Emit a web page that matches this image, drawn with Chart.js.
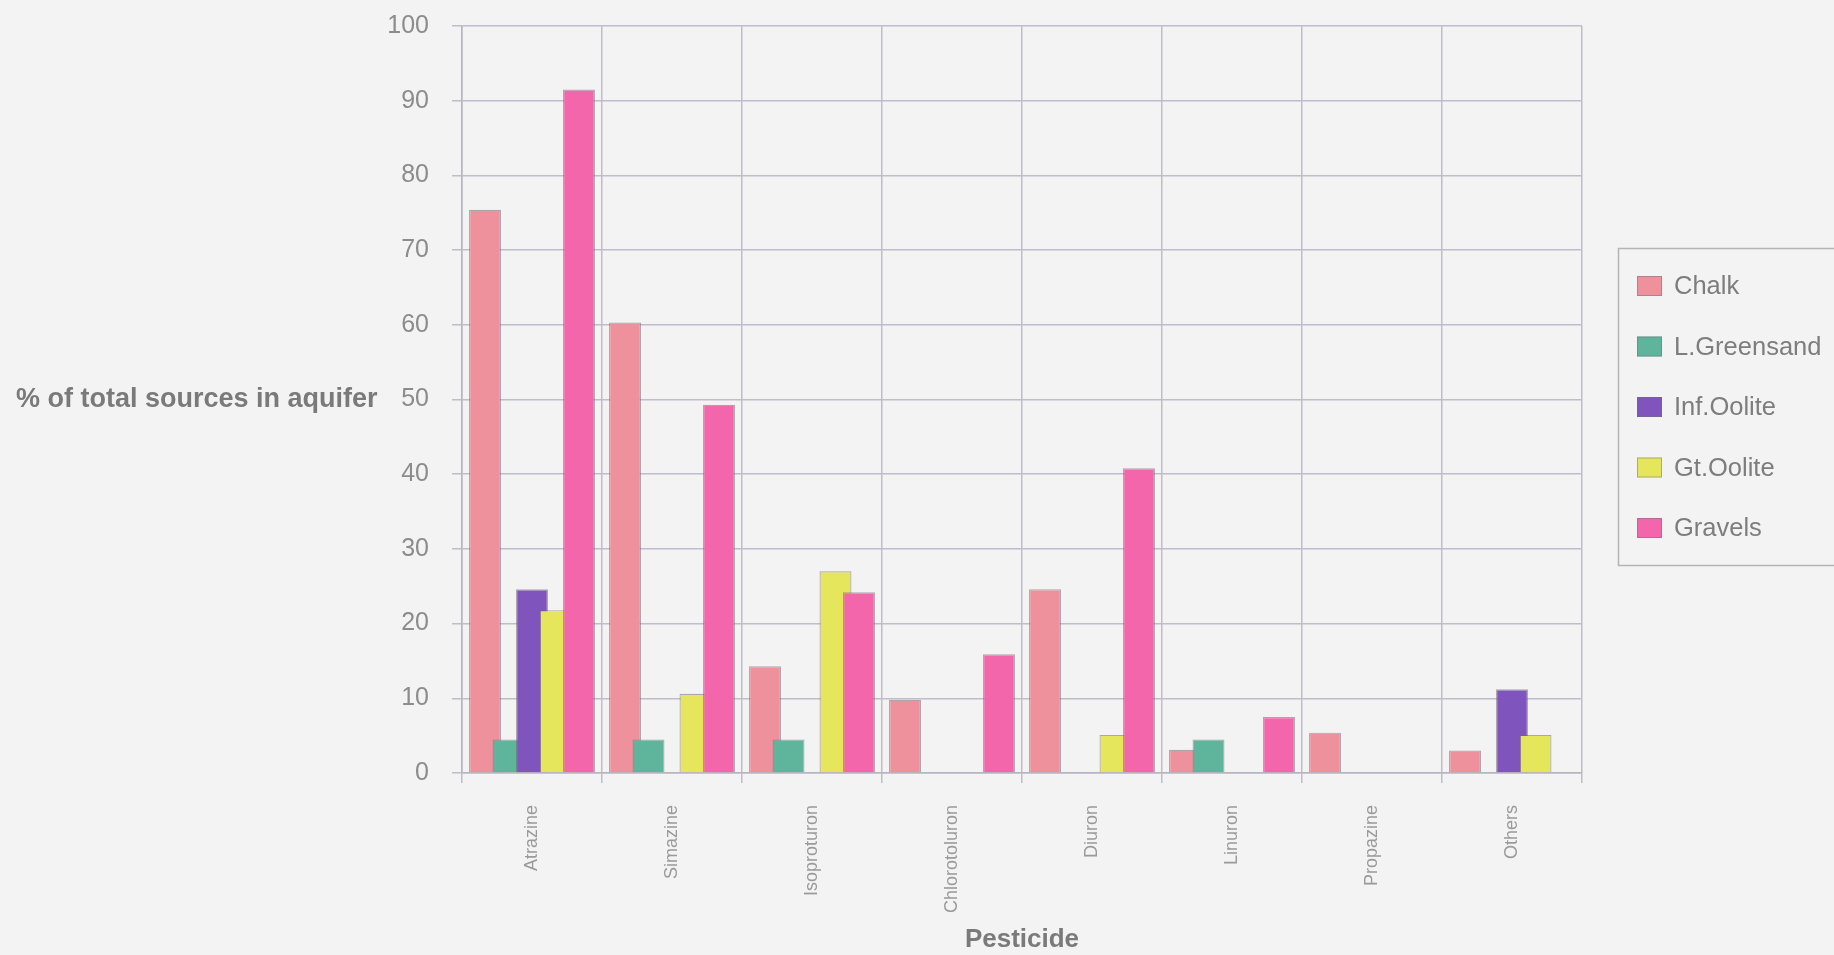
<!DOCTYPE html>
<html>
<head>
<meta charset="utf-8">
<script src="https://cdn.jsdelivr.net/npm/chart.js@4/dist/chart.umd.min.js"></script>
<style>
  html, body { margin: 0; padding: 0; background: #f3f3f3; }
  #wrap { width: 1834px; height: 955px; position: relative; }
</style>
</head>
<body>
<div id="wrap"><canvas id="c" width="1834" height="955"></canvas></div>
<script>
const categories = ['Atrazine', 'Simazine', 'Isoproturon', 'Chlorotoluron', 'Diuron', 'Linuron', 'Propazine', 'Others'];
const seriesNames = ['Chalk', 'L.Greensand', 'Inf.Oolite', 'Gt.Oolite', 'Gravels'];
const chalk     = [75.4, 60.3, 14.3, 9.8, 24.6, 3.1, 5.4, 3.0];
const greensand = [4.5, 4.5, 4.5, 0, 0, 4.5, 0, 0];
const infOolite = [24.6, 0, 0, 0, 0, 0, 0, 11.2];
const gtOolite  = [21.8, 10.6, 27.0, 0, 5.1, 0, 0, 5.1];
const gravels   = [91.5, 49.3, 24.2, 15.9, 40.8, 7.5, 0, 0];
const yTicks = [0, 10, 20, 30, 40, 50, 60, 70, 80, 90, 100];
const yTitle = '% of total sources in aquifer';
const xTitle = 'Pesticide';

const colors = ['#ef919d', '#5fb59b', '#7f55bd', '#e6e65c', '#f466ac'];
const seriesValues = [chalk, greensand, infOolite, gtOolite, gravels];

const PLOT_LEFT = 462;
const X_AXIS_H = 182;

// draw datasets in index order so later series sit on top (overlapping bars)
const drawOrder = {
  id: 'drawOrder',
  beforeDatasetsDraw(chart) {
    const ctx = chart.ctx;
    for (let i = 0; i < chart.data.datasets.length; i++) {
      const meta = chart.getDatasetMeta(i);
      if (!meta.visible) continue;
      ctx.save();
      meta.controller.draw();
      ctx.restore();
    }
    return false;
  }
};

const extras = {
  id: 'extras',
  afterDraw(chart) {
    const ctx = chart.ctx;
    ctx.save();
    // horizontal y-axis title
    ctx.font = 'bold 27px "Liberation Sans", Arial, sans-serif';
    ctx.fillStyle = '#7a7a7a';
    ctx.textAlign = 'left';
    ctx.textBaseline = 'middle';
    ctx.fillText(yTitle, 16, 400);

    // legend
    ctx.strokeStyle = '#b4b4b4';
    ctx.lineWidth = 1.5;
    ctx.strokeRect(1618.5, 248.5, 240, 317);
    ctx.font = '25.5px "Liberation Sans", Arial, sans-serif';
    chart.data.datasets.forEach((ds, i) => {
      const cy = 286 + i * 60.5;
      ctx.fillStyle = ds.backgroundColor;
      ctx.fillRect(1637, cy - 10, 25, 20);
      ctx.strokeStyle = 'rgba(120,110,120,0.5)';
      ctx.lineWidth = 1;
      ctx.strokeRect(1637.5, cy - 9.5, 24, 19);
      ctx.fillStyle = '#7d7d7d';
      ctx.textBaseline = 'middle';
      ctx.fillText(ds.label, 1674, cy + 1);
    });
    ctx.restore();
  }
};

const gridColor = '#c0bccb';

new Chart(document.getElementById('c'), {
  type: 'bar',
  data: {
    labels: categories,
    datasets: seriesNames.map((name, i) => ({
      label: name,
      data: seriesValues[i],
      backgroundColor: colors[i],
      borderColor: 'rgba(115,100,115,0.55)',
      borderWidth: 1.2,
      categoryPercentage: 0.839,
      barPercentage: 1.36
    }))
  },
  options: {
    responsive: false,
    animation: false,
    events: [],
    layout: { padding: { top: 26, right: 252, bottom: 0, left: 0 } },
    plugins: {
      legend: { display: false },
      tooltip: { enabled: false },
      title: { display: false }
    },
    scales: {
      x: {
        grid: {
          display: true,
          offset: true,
          color: gridColor,
          lineWidth: 1.5,
          drawTicks: true,
          tickLength: 10
        },
        border: { display: true, color: '#b8b4c2', width: 1.5 },
        ticks: {
          autoSkip: false,
          maxRotation: 90,
          minRotation: 90,
          padding: 22,
          color: '#9a9a9a',
          font: { family: '"Liberation Sans", Arial, sans-serif', size: 18 }
        },
        title: {
          display: true,
          text: xTitle,
          color: '#7a7a7a',
          padding: { top: 0, bottom: 0 },
          font: { family: '"Liberation Sans", Arial, sans-serif', size: 26, weight: 'bold' }
        },
        afterFit(scale) {
          scale.height = X_AXIS_H;
          scale.paddingLeft = 0;
          scale.paddingRight = 0;
        }
      },
      y: {
        min: 0,
        max: 100,
        afterBuildTicks(scale) { scale.ticks = yTicks.map(v => ({ value: v })); },
        grid: {
          color: gridColor,
          lineWidth: 1.5,
          drawTicks: true,
          tickLength: 10
        },
        border: { display: true, color: '#b8b4c2', width: 1.5 },
        ticks: {
          padding: 23,
          color: '#8c8c8c',
          font: { family: '"Liberation Sans", Arial, sans-serif', size: 25 }
        },
        afterFit(scale) {
          scale.width = PLOT_LEFT;
          scale.paddingTop = 0;
          scale.paddingBottom = 0;
        }
      }
    }
  },
  plugins: [drawOrder, extras]
});
</script>
</body>
</html>
